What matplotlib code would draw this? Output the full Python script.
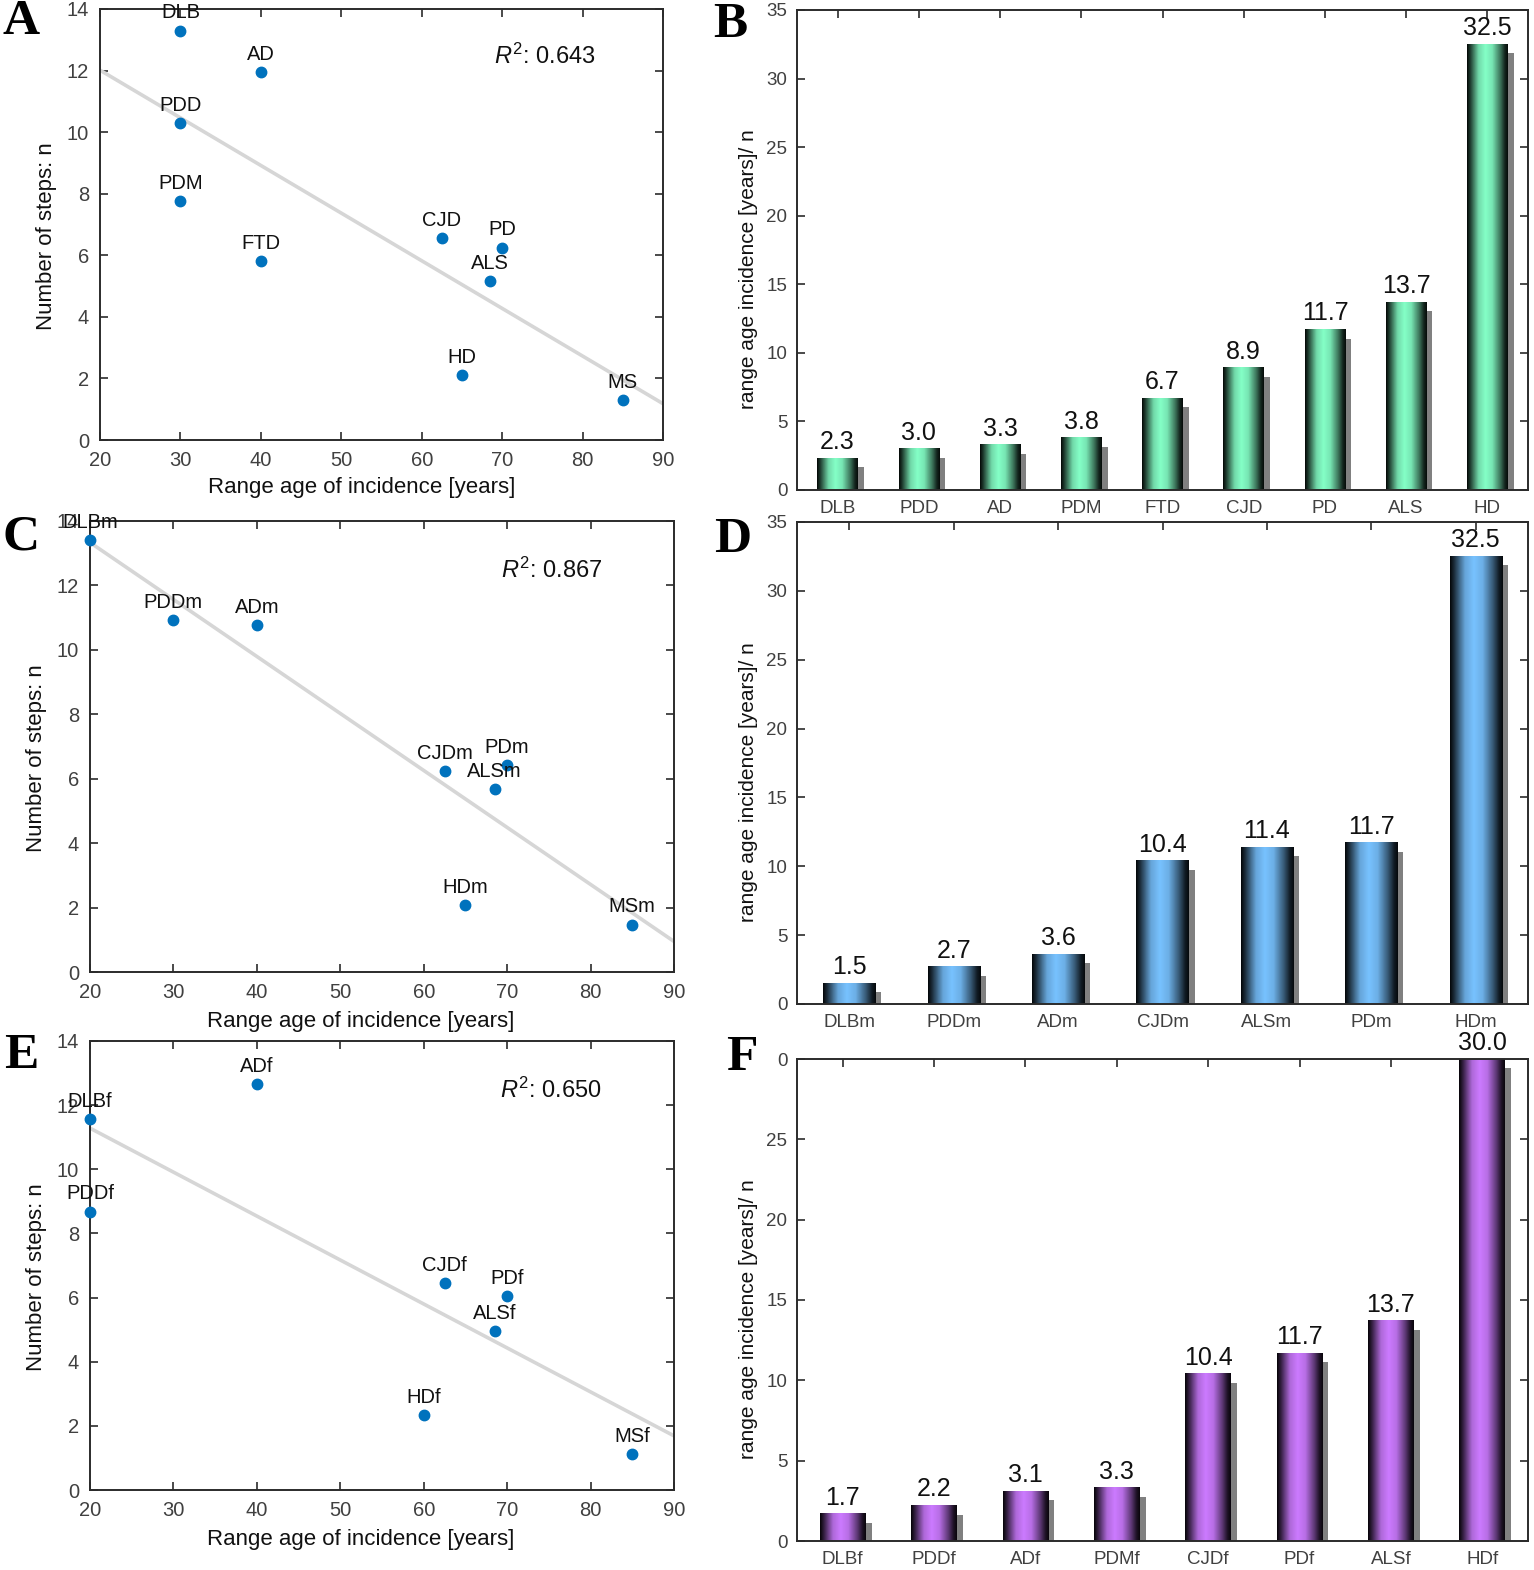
import numpy as np
import matplotlib
matplotlib.use('Agg')
import matplotlib.pyplot as plt
import matplotlib.transforms as mtransforms

plt.rcParams['font.family'] = ['Liberation Sans', 'DejaVu Sans']
plt.rcParams['mathtext.fontset'] = 'custom'
plt.rcParams['mathtext.rm'] = 'Liberation Sans'
plt.rcParams['mathtext.it'] = 'Liberation Sans:italic'

# ---- scatter data (range age of incidence vs number of steps) ----
a_names = ['DLB', 'AD', 'PDD', 'PDM', 'FTD', 'CJD', 'PD', 'ALS', 'HD', 'MS']
a_x = [30, 40, 30, 30, 40, 62.5, 70, 68.5, 65, 85]
a_y = [13.3, 11.95, 10.3, 7.75, 5.8, 6.55, 6.25, 5.15, 2.1, 1.3]

c_names = ['DLBm', 'PDDm', 'ADm', 'CJDm', 'PDm', 'ALSm', 'HDm', 'MSm']
c_x = [20, 30, 40, 62.5, 70, 68.5, 65, 85]
c_y = [13.4, 10.92, 10.76, 6.23, 6.42, 5.68, 2.07, 1.47]

e_names = ['ADf', 'DLBf', 'PDDf', 'CJDf', 'PDf', 'ALSf', 'HDf', 'MSf']
e_x = [40, 20, 20, 62.5, 70, 68.5, 60, 85]
e_y = [12.66, 11.57, 8.68, 6.45, 6.05, 4.95, 2.33, 1.11]

r2_labels = ['0.643', '0.867', '0.650']

# ---- bar data (range age incidence / n) ----
b_names = ['DLB', 'PDD', 'AD', 'PDM', 'FTD', 'CJD', 'PD', 'ALS', 'HD']
b_vals = [2.3, 3.0, 3.3, 3.8, 6.7, 8.9, 11.7, 13.7, 32.5]

d_names = ['DLBm', 'PDDm', 'ADm', 'CJDm', 'ALSm', 'PDm', 'HDm']
d_vals = [1.5, 2.7, 3.6, 10.4, 11.4, 11.7, 32.5]

f_names = ['DLBf', 'PDDf', 'ADf', 'PDMf', 'CJDf', 'PDf', 'ALSf', 'HDf']
f_vals = [1.7, 2.2, 3.1, 3.3, 10.4, 11.7, 13.7, 30.0]

W, H = 1534, 1570
fig = plt.figure(figsize=(W / 100, H / 100), dpi=100)

SPINE = '#2b2b2b'
TICKLAB = '#404040'


def px_axes(l, r, t, b):
    ax = fig.add_axes([l / W, 1 - b / H, (r - l) / W, (b - t) / H])
    ax.wpx = r - l
    return ax


def style(ax):
    for s in ax.spines.values():
        s.set_color(SPINE)
        s.set_linewidth(1.4)
    ax.tick_params(direction='in', top=True, right=True, length=6, width=1.2,
                   color=SPINE, labelcolor=TICKLAB)


def scatter_panel(ax, xs, ys, names, r2):
    xs = np.array(xs)
    ys = np.array(ys)
    k, b0 = np.polyfit(xs, ys, 1)
    xl = np.array([20, 90])
    ax.plot(xl, k * xl + b0, color='#d6d6d6', lw=2.6, zorder=2)
    ax.plot(xs, ys, 'o', color='#0072BD', ms=7.5, zorder=3, clip_on=False)
    for x, y, n in zip(xs, ys, names):
        ax.annotate(n, (x, y), xytext=(0, 6), textcoords='offset points',
                    ha='center', va='bottom', fontsize=14.5, color='#111111',
                    zorder=4, annotation_clip=False)
    ax.text(0.79, 0.89, '$R^2$: ' + r2, transform=ax.transAxes,
            ha='center', va='center', fontsize=17, color='#111111')
    ax.set_xlim(20, 90)
    ax.set_ylim(0, 14)
    ax.set_xticks(range(20, 91, 10))
    ax.set_yticks(range(0, 15, 2))
    style(ax)
    ax.tick_params(labelsize=14.5, pad=8)
    ax.set_xlabel('Range age of incidence [years]', fontsize=16, color='#111111')
    ax.xaxis.set_label_coords(0.464, -0.087)
    ax.set_ylabel('Number of steps: n', fontsize=16, color='#111111')
    ax.yaxis.set_label_coords(-43 / ax.wpx, 0.474)


prof = np.interp(np.linspace(0, 1, 64),
                 [0, 0.08, 0.28, 0.45, 0.62, 0.82, 0.93, 1.0],
                 [0.04, 0.25, 0.85, 1.0, 0.9, 0.45, 0.15, 0.05])


def bar_panel(ax, names, vals, base, ymax, yticklabels):
    n = len(vals)
    x = np.arange(1, n + 1)
    grad = (np.array(base)[None, None, :] * prof[None, :, None])
    shadow = mtransforms.offset_copy(ax.transData, fig=fig, x=6, y=-9, units='dots')
    ax.bar(x, vals, 0.5, color='#808080', transform=shadow, zorder=1)
    for xi, v in zip(x, vals):
        ax.imshow(grad, extent=(xi - 0.25, xi + 0.25, 0, v), aspect='auto',
                  interpolation='bilinear', zorder=2)
        ax.annotate(f'{v:.1f}', (xi, v), xytext=(0, 3), textcoords='offset points',
                    ha='center', va='bottom', fontsize=18, color='#111111',
                    annotation_clip=False)
    ax.set_xlim(0.5, n + 0.5)
    ax.set_ylim(0, ymax)
    ax.set_aspect('auto')
    ax.set_xticks(x)
    ax.set_xticklabels(names)
    yt = np.arange(0, ymax + 1, 5)
    ax.set_yticks(yt)
    ax.set_yticklabels(yticklabels)
    style(ax)
    ax.tick_params(labelsize=13.5, pad=7)
    ax.set_ylabel('range age incidence [years]/ n', fontsize=15, color='#111111')
    ax.yaxis.set_label_coords(-39 / ax.wpx, 0.46)


axA = px_axes(100, 663, 9, 440)
scatter_panel(axA, a_x, a_y, a_names, r2_labels[0])
axC = px_axes(90, 674, 521, 972)
scatter_panel(axC, c_x, c_y, c_names, r2_labels[1])
axE = px_axes(90, 674, 1041, 1490)
scatter_panel(axE, e_x, e_y, e_names, r2_labels[2])

axB = px_axes(797, 1528, 10, 490)
bar_panel(axB, b_names, b_vals, (0.52, 1.0, 0.78), 35,
          ['0', '5', '10', '15', '20', '25', '30', '35'])
axD = px_axes(797, 1528, 522, 1004)
bar_panel(axD, d_names, d_vals, (0.47, 0.76, 1.0), 35,
          ['0', '5', '10', '15', '20', '25', '30', '35'])
axF = px_axes(797, 1528, 1059, 1541)
bar_panel(axF, f_names, f_vals, (0.80, 0.48, 1.0), 30,
          ['0', '5', '10', '15', '20', '25', '0'])

for letter, px, py in [('A', 21, 22), ('B', 730, 25), ('C', 21, 538),
                       ('D', 733, 540), ('E', 21, 1056), ('F', 742, 1058)]:
    fig.text(px / W, 1 - py / H, letter, family=['Liberation Serif', 'DejaVu Serif'],
             fontweight='bold', fontsize=37, ha='center', va='center')

fig.savefig('out.png', dpi=100)
